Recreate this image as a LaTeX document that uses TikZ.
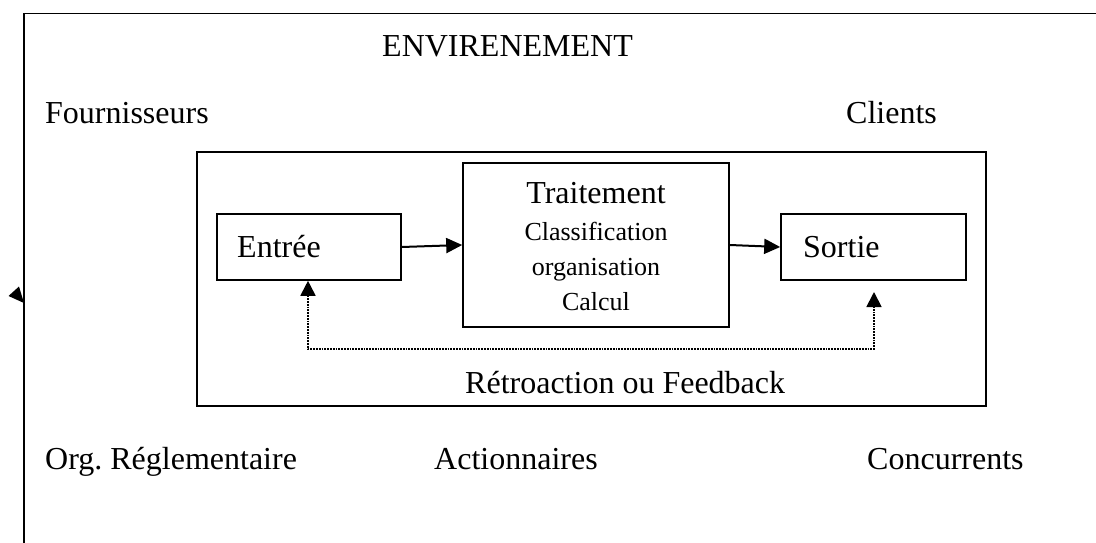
\documentclass[tikz,border=0pt]{standalone}
\usepackage{fontspec}
\setmainfont{Liberation Serif}
\usetikzlibrary{arrows.meta}
\frenchspacing
\begin{document}
\begin{tikzpicture}[x=1pt,y=-1pt,
  frame/.style={line width=1.8pt,draw=black},
  box/.style={draw,line width=1.6pt,inner sep=0pt},
  lbl/.style={inner sep=0pt,anchor=base west,font=\fontsize{32}{36}\selectfont},
  sub/.style={inner sep=0pt,anchor=base,font=\fontsize{26}{30}\selectfont},
  flow/.style={line width=2pt,-{Triangle[length=16pt,width=15pt]}},
  fb/.style={line width=1.8pt,densely dotted,{Triangle[length=15pt,width=15pt]}-{Triangle[length=15pt,width=15pt]}}]
\useasboundingbox (0,0) rectangle (1096,543);

% environment frame (open on the right and at the bottom)
\coordinate (fTL) at (24,13.5);
\coordinate (fTR) at (1096,13.5);
\coordinate (fBL) at (24,543);
\draw[frame] (fTR) -- (fTL) -- (fBL);
\fill (24,303) -- (8.5,296) -- (19,286.5) -- cycle;

% environment actors
\node[lbl] (env) at (382,57) {ENVIRENEMENT};
\node[lbl] (four) at (45,123) {Fournisseurs};
\node[lbl] (cli) at (846,123) {Clients};
\node[lbl] (reg) at (45,469) {Org. Réglementaire};
\node[lbl] (act) at (434,469) {Actionnaires};
\node[lbl] (conc) at (867,469) {Concurrents};

% system boundary
\node[box,minimum width=789pt,minimum height=254pt] (sys) at (591.5,279) {};

% processing chain
\node[box,minimum width=184pt,minimum height=66pt] (entree) at (309,247) {};
\node[lbl] (entreeT) at (237,257) {Entrée};
\node[box,minimum width=266pt,minimum height=164pt] (trait) at (596,245) {};
\node[lbl,anchor=base] (traitT) at (596,203) {Traitement};
\node[sub] (s1) at (596,240) {Classification};
\node[sub] (s2) at (596,275) {organisation};
\node[sub] (s3) at (596,310) {Calcul};
\node[box,minimum width=185pt,minimum height=66pt] (sortie) at (873.5,247) {};
\node[lbl] (sortieT) at (803,257) {Sortie};

\draw[flow] (entree.east) -- (trait.west);
\draw[flow] (trait.east) -- (sortie.west);

% feedback loop
\coordinate (fbL) at (308,349);
\coordinate (fbR) at (874,349);
\coordinate (fbTip) at (874,292);
\draw[fb] (entree.south -| fbL) -- (fbL) -- (fbR) -- (fbTip);
\node[lbl] (fbT) at (465,393) {Rétroaction ou Feedback};
\end{tikzpicture}
\end{document}
